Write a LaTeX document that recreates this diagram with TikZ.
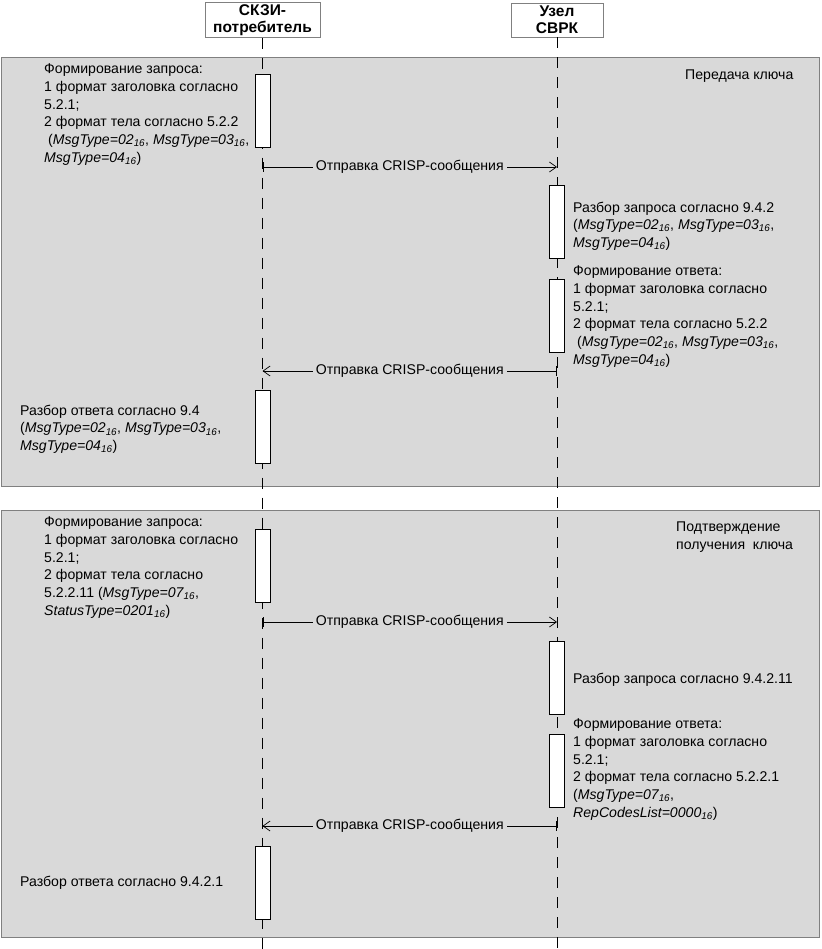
\documentclass[tikz,border=0pt]{standalone}
\usepackage{fontspec}
\setmainfont{Liberation Sans}
\usetikzlibrary{arrows.meta}
\definecolor{zonegray}{RGB}{217,217,217}
\definecolor{edgegray}{RGB}{128,128,128}
\newcommand{\mtype}[2][MsgType]{\textit{#1=#2\textsubscript{16}}}

\begin{document}
\begin{tikzpicture}[
        x=1pt, y=-1pt,
        font=\fontsize{14.1}{17.8}\selectfont,
        actor/.style={draw=edgegray, fill=white, align=center, minimum height=34pt, inner sep=2pt, font=\fontsize{15.5}{17}\selectfont\bfseries},
        zone/.style={draw=edgegray, fill=zonegray},
        lifeline/.style={line width=0.8pt, dash pattern=on 11pt off 9pt},
        actbar/.style={draw, line width=1pt, fill=white, minimum width=15pt, minimum height=73pt, inner sep=0pt},
        note/.style={anchor=north west, align=left, inner sep=0pt},
        msg/.style={line width=0.7pt, {Bar[width=10pt]}-{Straight Barb[length=7pt,width=10pt]}},
        msglabel/.style={fill=zonegray, inner sep=3pt},
    ]
        \useasboundingbox (0,0) rectangle (821,949);

        % Zones
        \draw[zone] (1,57) rectangle (819,486);
        \draw[zone] (1,510) rectangle (819,937);
        \node[note] (zone1) at (685,69.5) {Передача ключа};
        \node[note] (zone2) at (676,521.5) {Подтверждение\\получения\ \ ключа};

        % Participants and lifelines
        \node[actor, minimum width=115pt] (cons) at (262.5,20) {СКЗИ-\\потребитель};
        \node[actor, minimum width=92pt] (svrk) at (557,20) {Узел\\СВРК};
        \draw[lifeline] (cons.south) -- (cons.south |- 0,949);
        \draw[lifeline] (svrk.south) -- (svrk.south |- 0,949);

        % Key transfer
        \node[actbar] (a1) at (cons |- 0,111) {};
        \node[note] (t1) at (44,63.5) {Формирование запроса:\\1 формат заголовка согласно\\5.2.1;\\2 формат тела согласно 5.2.2\\\hspace{4pt}(\mtype{02}, \mtype{03},\\\mtype{04})};
        \draw[msg] (cons |- 0,167) -- node[msglabel] {Отправка CRISP-сообщения} (svrk |- 0,167);
        \node[actbar] (b1) at (svrk |- 0,222.5) {};
        \node[note] (t2) at (573,201.5) {Разбор запроса согласно 9.4.2\\(\mtype{02}, \mtype{03},\\\mtype{04})};
        \node[actbar] (b2) at (svrk |- 0,316) {};
        \node[note] (t3) at (573,265.5) {Формирование ответа:\\1 формат заголовка согласно\\5.2.1;\\2 формат тела согласно 5.2.2\\\hspace{4pt}(\mtype{02}, \mtype{03},\\\mtype{04})};
        \draw[msg] (svrk |- 0,371) -- node[msglabel] {Отправка CRISP-сообщения} (cons |- 0,371);
        \node[actbar] (a2) at (cons |- 0,427) {};
        \node[note] (t4) at (20,404.5) {Разбор ответа согласно 9.4\\(\mtype{02}, \mtype{03},\\\mtype{04})};

        % Receipt confirmation
        \node[actbar] (a3) at (cons |- 0,566) {};
        \node[note] (t5) at (44,516.5) {Формирование запроса:\\1 формат заголовка согласно\\5.2.1;\\2 формат тела согласно\\5.2.2.11 (\mtype{07},\\\mtype[StatusType]{0201})};
        \draw[msg] (cons |- 0,622) -- node[msglabel] {Отправка CRISP-сообщения} (svrk |- 0,622);
        \node[actbar] (b3) at (svrk |- 0,678) {};
        \node[note] (t6) at (573,672.5) {Разбор запроса согласно 9.4.2.11};
        \node[actbar] (b4) at (svrk |- 0,770.5) {};
        \node[note] (t7) at (573,718.5) {Формирование ответа:\\1 формат заголовка согласно\\5.2.1;\\2 формат тела согласно 5.2.2.1\\(\mtype{07},\\\mtype[RepCodesList]{0000})};
        \draw[msg] (svrk |- 0,826) -- node[msglabel] {Отправка CRISP-сообщения} (cons |- 0,826);
        \node[actbar] (a4) at (cons |- 0,882.5) {};
        \node[note] (t8) at (20,875.5) {Разбор ответа согласно 9.4.2.1};
    \end{tikzpicture}
\end{document}
